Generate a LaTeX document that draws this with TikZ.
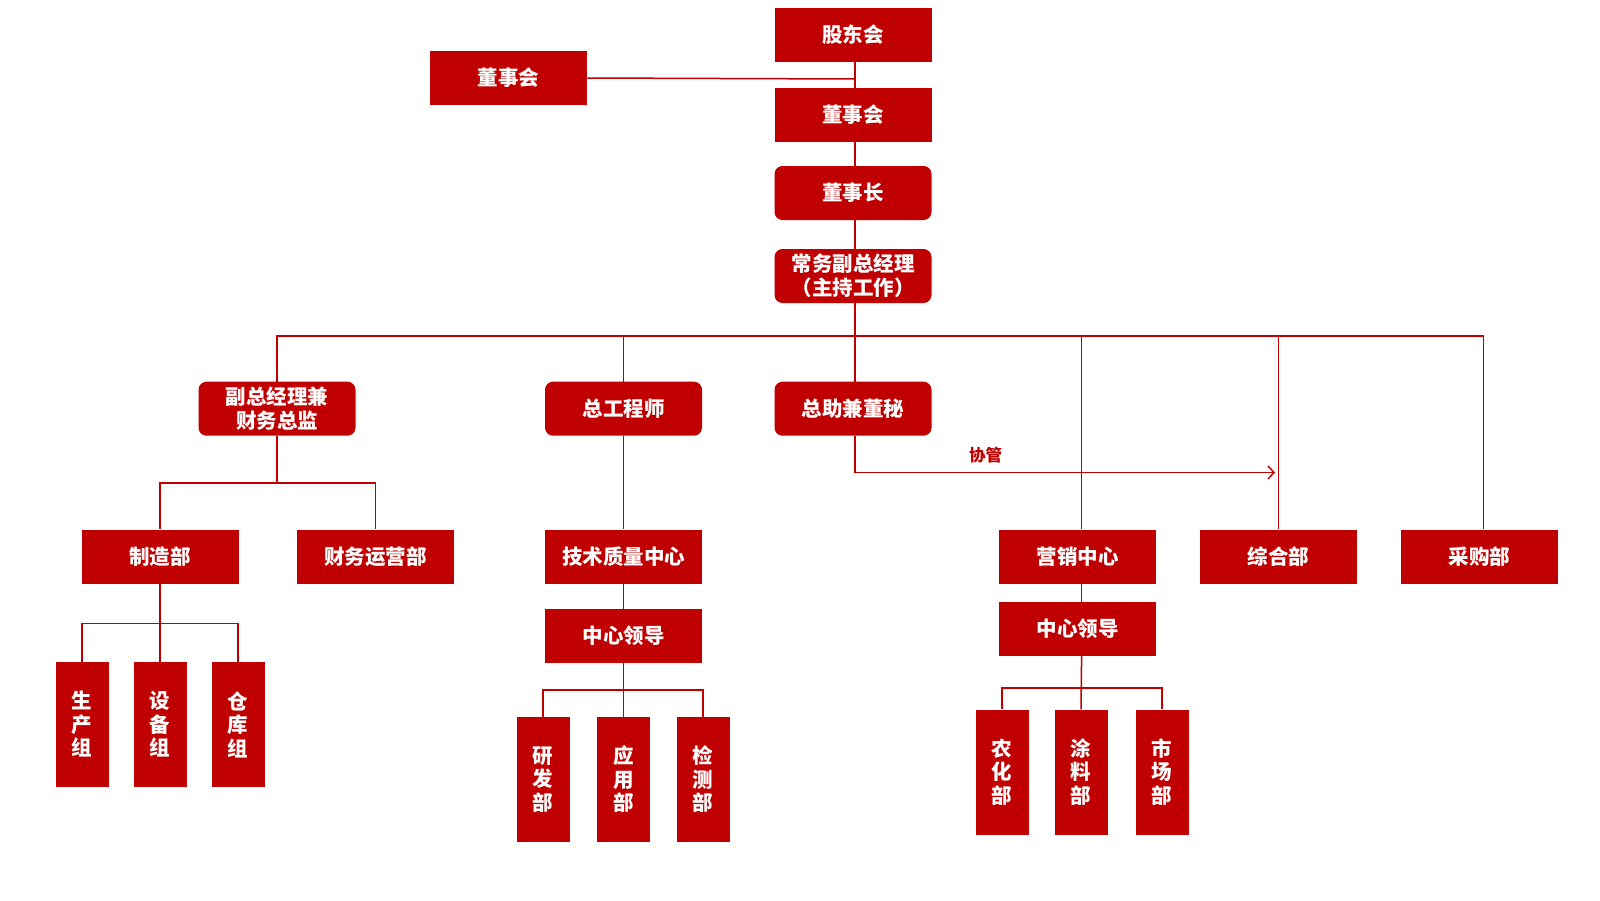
\documentclass[tikz,border=0pt]{standalone}
\usepackage{fontspec}
\newfontfamily\cjk{Noto Sans CJK SC}
\usetikzlibrary{arrows.meta}
\definecolor{dred}{HTML}{C00000}
\tikzset{
  obox/.style={fill=dred, draw=none, text=white, minimum width=157pt, minimum height=54pt, inner sep=0pt, align=center,
    font=\cjk\bfseries\fontsize{20.5}{24}\selectfont},
  rbox/.style={obox, rounded corners=8pt},
  vbox/.style={obox, minimum width=53pt, minimum height=125pt, font=\cjk\bfseries\fontsize{20.5}{23.5}\selectfont},
  link/.style={draw=dred, line width=1.5pt},
  lbl/.style={text=dred, font=\cjk\bfseries\fontsize{16.5}{18}\selectfont, inner sep=0pt}
}
\begin{document}
\begin{tikzpicture}[x=1pt,y=-1pt]
\useasboundingbox (0,0) rectangle (1600,900);
% top column
\node[obox] (gd) at (853,35) {股东会};
\node[obox] (dsl) at (508.7,78) {董事会};
\node[obox] (ds) at (853,115) {董事会};
\node[rbox] (dsz) at (853,193) {董事长};
\node[rbox] (cw) at (853,276) {常务副总经理\\（主持工作）};
% level 2
\node[rbox] (fz) at (277,408.7) {副总经理兼\\财务总监};
\node[rbox] (zg) at (623.5,408.7) {总工程师};
\node[rbox] (zz) at (853,408.7) {总助兼董秘};
% level 3
\node[obox] (zzb) at (160,556.6) {制造部};
\node[obox] (cwy) at (375.5,556.6) {财务运营部};
\node[obox] (jz) at (623.5,556.6) {技术质量中心};
\node[obox] (yx) at (1077.6,556.6) {营销中心};
\node[obox] (zh) at (1278.6,556.6) {综合部};
\node[obox] (cg) at (1479.6,556.6) {采购部};
% centre leaders
\node[obox] (zx1) at (623.5,636) {中心领导};
\node[obox] (zx2) at (1077.6,629) {中心领导};
% vertical boxes
\node[vbox] (scz) at (82,724.5) {生\\产\\组};
\node[vbox] (sbz) at (160,724.5) {设\\备\\组};
\node[vbox] (ckz) at (238,724.5) {仓\\库\\组};
\node[vbox] (yf) at (543,779.5) {研\\发\\部};
\node[vbox] (yy) at (623.5,779.5) {应\\用\\部};
\node[vbox] (jc) at (703,779.5) {检\\测\\部};
\node[vbox] (nh) at (1002,772) {农\\化\\部};
\node[vbox] (tl) at (1081,772) {涂\\料\\部};
\node[vbox] (sc) at (1162,772) {市\\场\\部};
% coordinates
\coordinate (j0) at (855,79);
\coordinate (bus) at (855,336);
\coordinate (b1) at (277,483);
\coordinate (b2) at (160,623.5);
\coordinate (b3) at (623.5,690);
\coordinate (b4) at (1081.6,688);
\coordinate (a0) at (855,472.5);
\coordinate (a1) at (1275,472.5);
% connectors
\draw[link] ([xshift=2pt]gd.south) -- ([xshift=2pt]ds.north);
\draw[link] (dsl.east) -- (j0);
\draw[link] ([xshift=2pt]ds.south) -- ([xshift=2pt]dsz.north);
\draw[link] ([xshift=2pt]dsz.south) -- ([xshift=2pt]cw.north);
\draw[link] ([xshift=2pt]cw.south) -- ([xshift=2pt]zz.north);
\draw[link] (fz.north) |- (bus) -| ([xshift=4pt]cg.north);
\draw[link] (zg.north) -- (zg.north |- bus);
\draw[link] ([xshift=4pt]yx.north) -- ([xshift=4pt]yx.north |- bus);
\draw[link] (zh.north) -- (zh.north |- bus);
\draw[link] (fz.south) -- (b1);
\draw[link] (zzb.north) |- (b1) -| (cwy.north);
\draw[link] (zzb.south) -- (sbz.north);
\draw[link] (scz.north) |- (b2) -| (ckz.north);
\draw[link] (zg.south) -- (jz.north);
\draw[link] (jz.south) -- (zx1.north);
\draw[link] (zx1.south) -- (yy.north);
\draw[link] (yf.north) |- (b3) -| (jc.north);
\draw[link] ([xshift=4pt]yx.south) -- ([xshift=4pt]zx2.north);
\draw[link] ([xshift=4pt]zx2.south) -- (tl.north);
\draw[link] (nh.north) |- (b4) -| (sc.north);
\draw[link, -{Straight Barb[length=6pt,width=13pt,line width=1.5pt]}] ([xshift=2pt]zz.south) -- (a0) -- (a1);
\node[lbl] (xg) at (985.7,455) {协管};
\end{tikzpicture}
\end{document}
